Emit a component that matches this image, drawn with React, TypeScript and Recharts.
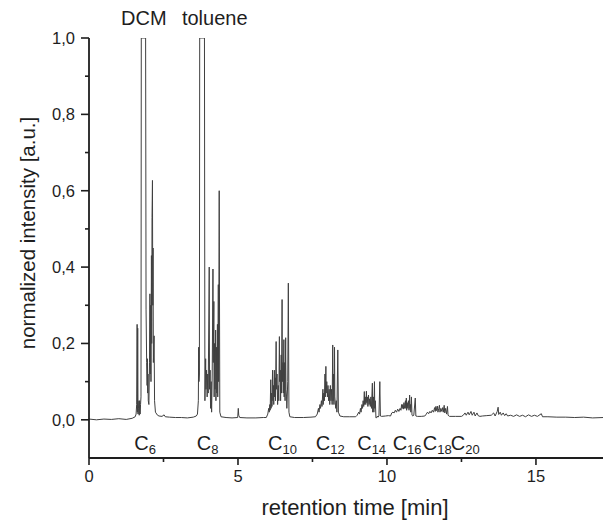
import React from 'react';
import { LineChart, Line, XAxis, YAxis, ReferenceDot } from 'recharts';

// [retention time (min), normalized intensity]
const baselineStart: [number, number][] = [
  [0, 0.002], [0.25, 0.0], [0.5, 0.002], [0.75, 0.001], [1.0, 0.003], [1.25, 0.001], [1.45, 0.004], [1.55, 0.008],
];
const regionC6: [number, number][] = [
  [1.58, 0.015], [1.6, 0.04], [1.615, 0.25], [1.625, 0.02], [1.635, 0.24], [1.645, 0.015], [1.66, 0.03], [1.675, 0.05],
  [1.685, 0.012], [1.7, 0.05], [1.715, 0.015], [1.73, 0.04], [1.745, 0.06], [1.755, 1.0], [1.9, 1.0], [1.915, 0.29],
  [1.935, 0.15], [1.95, 0.09], [1.96, 0.16], [1.97, 0.07], [1.98, 0.12], [1.99, 0.05], [2.01, 0.04], [2.03, 0.15],
  [2.045, 0.33], [2.055, 0.12], [2.07, 0.3], [2.08, 0.1], [2.095, 0.43], [2.105, 0.2], [2.115, 0.53], [2.13, 0.627],
  [2.14, 0.3], [2.15, 0.45], [2.16, 0.15], [2.185, 0.22], [2.2, 0.05], [2.23, 0.02], [2.3, 0.012],
];
const baselineB: [number, number][] = [
  [2.35, 0.01], [2.45, 0.009], [2.52, 0.013], [2.56, 0.008], [2.7, 0.007], [2.9, 0.006], [3.1, 0.006], [3.3, 0.005],
  [3.5, 0.007], [3.6, 0.01],
];
const regionC8: [number, number][] = [
  [3.64, 0.015], [3.67, 0.05], [3.68, 0.19], [3.69, 0.1], [3.705, 0.12], [3.715, 1.0], [3.875, 1.0], [3.89, 0.05],
  [3.915, 0.16], [3.925, 0.08], [3.945, 0.13], [3.965, 0.06], [3.985, 0.12], [4.0, 0.07], [4.035, 0.4], [4.045, 0.08],
  [4.065, 0.13], [4.08, 0.03], [4.1, 0.1], [4.115, 0.02], [4.135, 0.12], [4.16, 0.395], [4.17, 0.15], [4.19, 0.31],
  [4.2, 0.06], [4.215, 0.2], [4.23, 0.08], [4.25, 0.235], [4.26, 0.05], [4.28, 0.19], [4.29, 0.07], [4.31, 0.25],
  [4.32, 0.06], [4.34, 0.354], [4.35, 0.1], [4.37, 0.6], [4.39, 0.02], [4.43, 0.008],
];
const baselineC: [number, number][] = [
  [4.6, 0.006], [4.8, 0.005], [4.99, 0.006], [5.01, 0.03], [5.025, 0.012], [5.06, 0.006], [5.3, 0.005], [5.6, 0.005],
  [5.85, 0.006],
];
const regionC10: [number, number][] = [
  [5.95, 0.006], [6.0, 0.015], [6.03, 0.03], [6.05, 0.02], [6.07, 0.04], [6.08, 0.025], [6.1, 0.105], [6.11, 0.03],
  [6.13, 0.07], [6.14, 0.035], [6.16, 0.13], [6.17, 0.05], [6.19, 0.09], [6.2, 0.04], [6.22, 0.13], [6.23, 0.06],
  [6.25, 0.11], [6.26, 0.05], [6.28, 0.205], [6.29, 0.08], [6.31, 0.12], [6.33, 0.04], [6.35, 0.09], [6.37, 0.05],
  [6.39, 0.218], [6.4, 0.1], [6.42, 0.13], [6.43, 0.05], [6.45, 0.17], [6.46, 0.07], [6.48, 0.315], [6.49, 0.1],
  [6.51, 0.15], [6.52, 0.07], [6.54, 0.21], [6.55, 0.06], [6.57, 0.15], [6.58, 0.05], [6.6, 0.215], [6.61, 0.08],
  [6.63, 0.06], [6.64, 0.03], [6.67, 0.1], [6.69, 0.358], [6.71, 0.02], [6.74, 0.008],
];
const baselineD: [number, number][] = [[6.9, 0.006], [7.2, 0.006], [7.45, 0.007]];
const regionC12: [number, number][] = [
  [7.6, 0.008], [7.66, 0.015], [7.7, 0.03], [7.72, 0.02], [7.75, 0.04], [7.77, 0.03], [7.8, 0.05], [7.82, 0.035],
  [7.85, 0.08], [7.86, 0.04], [7.88, 0.07], [7.9, 0.05], [7.92, 0.12], [7.93, 0.06], [7.95, 0.14], [7.96, 0.07],
  [7.98, 0.1], [8.0, 0.06], [8.02, 0.09], [8.04, 0.05], [8.06, 0.08], [8.08, 0.04], [8.1, 0.09], [8.12, 0.05],
  [8.14, 0.08], [8.16, 0.04], [8.18, 0.196], [8.19, 0.05], [8.21, 0.12], [8.22, 0.04], [8.24, 0.19], [8.25, 0.06],
  [8.28, 0.03], [8.3, 0.05], [8.32, 0.02], [8.35, 0.183], [8.37, 0.02], [8.42, 0.01],
];
const baselineE: [number, number][] = [[8.55, 0.008], [8.75, 0.008]];
const regionC14: [number, number][] = [
  [8.95, 0.008], [9.0, 0.012], [9.05, 0.02], [9.08, 0.015], [9.11, 0.03], [9.13, 0.02], [9.16, 0.04], [9.18, 0.03],
  [9.2, 0.05], [9.22, 0.035], [9.24, 0.074], [9.25, 0.04], [9.27, 0.06], [9.29, 0.04], [9.31, 0.075], [9.32, 0.045],
  [9.34, 0.06], [9.36, 0.035], [9.38, 0.065], [9.4, 0.04], [9.42, 0.055], [9.44, 0.035], [9.46, 0.06], [9.48, 0.03],
  [9.51, 0.096], [9.52, 0.02], [9.55, 0.06], [9.56, 0.02], [9.58, 0.1], [9.59, 0.03], [9.61, 0.05], [9.63, 0.005],
  [9.66, 0.006], [9.68, 0.01], [9.7, 0.007], [9.73, 0.01], [9.76, 0.1], [9.78, 0.01], [9.82, 0.009],
];
const regionC16: [number, number][] = [
  [9.95, 0.01], [10.05, 0.011], [10.12, 0.01], [10.16, 0.018], [10.2, 0.02], [10.24, 0.018], [10.28, 0.025],
  [10.32, 0.02], [10.36, 0.028], [10.4, 0.022], [10.44, 0.03], [10.47, 0.025], [10.49, 0.04], [10.51, 0.03],
  [10.53, 0.04], [10.55, 0.028], [10.57, 0.045], [10.59, 0.03], [10.62, 0.05], [10.63, 0.03], [10.65, 0.057],
  [10.66, 0.025], [10.68, 0.045], [10.7, 0.03], [10.72, 0.05], [10.74, 0.025], [10.76, 0.065], [10.77, 0.03],
  [10.79, 0.04], [10.8, 0.02], [10.82, 0.06], [10.84, 0.012], [10.87, 0.01], [10.9, 0.012], [10.95, 0.057],
  [10.97, 0.01], [11.02, 0.009], [11.15, 0.009],
];
const regionC18: [number, number][] = [
  [11.27, 0.01], [11.32, 0.015], [11.36, 0.02], [11.4, 0.016], [11.44, 0.022], [11.48, 0.018], [11.52, 0.025],
  [11.56, 0.02], [11.6, 0.032], [11.62, 0.022], [11.64, 0.035], [11.66, 0.024], [11.69, 0.036], [11.71, 0.02],
  [11.74, 0.03], [11.76, 0.038], [11.78, 0.02], [11.81, 0.03], [11.84, 0.022], [11.87, 0.032], [11.89, 0.02],
  [11.92, 0.038], [11.94, 0.018], [11.97, 0.03], [12.0, 0.015], [12.03, 0.035], [12.05, 0.012], [12.1, 0.009],
  [12.3, 0.009],
];
const regionTail: [number, number][] = [
  [12.5, 0.009], [12.56, 0.012], [12.62, 0.018], [12.66, 0.012], [12.72, 0.02], [12.76, 0.013], [12.82, 0.022],
  [12.86, 0.012], [12.92, 0.02], [12.96, 0.01], [13.02, 0.018], [13.06, 0.011], [13.12, 0.009], [13.2, 0.01],
  [13.35, 0.011], [13.5, 0.012], [13.58, 0.018], [13.63, 0.01], [13.7, 0.022], [13.73, 0.033], [13.75, 0.014],
  [13.8, 0.02], [13.84, 0.012], [13.9, 0.018], [13.95, 0.011], [14.0, 0.016], [14.05, 0.01], [14.15, 0.012],
  [14.25, 0.009], [14.35, 0.013], [14.45, 0.009], [14.55, 0.012], [14.65, 0.008], [14.75, 0.013], [14.85, 0.009],
  [14.95, 0.012], [15.05, 0.009], [15.18, 0.016], [15.22, 0.008], [15.4, 0.008], [15.7, 0.007], [16.0, 0.007],
  [16.3, 0.006], [16.6, 0.007], [16.9, 0.005], [17.25, 0.006],
];

const xTicks = [0, 2.5, 5, 7.5, 10, 12.5, 15];
const yTicks = [0, 0.1, 0.2, 0.3, 0.4, 0.5, 0.6, 0.7, 0.8, 0.9, 1.0];

const solventLabels = [
  { t: 1.84, text: 'DCM' },
  { t: 4.22, text: 'toluene' },
];
const alkaneLabels = [
  { t: 1.52, n: '6' },
  { t: 3.62, n: '8' },
  { t: 6.01, n: '10' },
  { t: 7.61, n: '12' },
  { t: 9.0, n: '14' },
  { t: 10.19, n: '16' },
  { t: 11.2, n: '18' },
  { t: 12.14, n: '20' },
];

const data = [
  ...baselineStart, ...regionC6, ...baselineB, ...regionC8, ...baselineC, ...regionC10, ...baselineD,
  ...regionC12, ...baselineE, ...regionC14, ...regionC16, ...regionC18, ...regionTail,
].map(([t, v]) => ({ t, v }));

const FONT = '"Liberation Sans", Arial, Helvetica, sans-serif';
const INK = '#1e1e1e';

const XTick = (props: any) => {
  const { x, y, payload } = props;
  const major = payload.value % 5 === 0;
  return (
    <g>
      <line x1={x} y1={y} x2={x} y2={y + (major ? 7 : 4)} stroke={INK} strokeWidth={1.6} />
      {major && (
        <text x={x} y={y + 24} textAnchor="middle" fontSize={16.5} fontFamily={FONT} fill={INK}>
          {payload.value}
        </text>
      )}
    </g>
  );
};

const YTick = (props: any) => {
  const { x, y, payload } = props;
  const major = Math.round(payload.value * 10) % 2 === 0;
  return (
    <g>
      <line x1={x} y1={y} x2={x - (major ? 8 : 4)} y2={y} stroke={INK} strokeWidth={1.6} />
      {major && (
        <text x={x - 14} y={y + 6} textAnchor="end" fontSize={16.5} fontFamily={FONT} fill={INK}>
          {payload.value.toFixed(1).replace('.', ',')}
        </text>
      )}
    </g>
  );
};

export default function App() {
  return (
    <div style={{ position: 'absolute', left: 0, top: 0, width: 603, height: 523, background: '#fff' }}>
      <LineChart width={603} height={523} data={data} margin={{ top: 38, right: 0, bottom: 0, left: 0 }}>
        <XAxis
          type="number"
          dataKey="t"
          domain={[0, 17.25]}
          ticks={xTicks}
          interval={0}
          tickSize={0}
          tickMargin={0}
          tickLine={false}
          tick={<XTick />}
          height={65}
          axisLine={{ stroke: INK, strokeWidth: 1.8 }}
          allowDataOverflow
          label={{
            content: (p: any) => {
              const vb = p.viewBox || { x: 89, y: 458 };
              return (
                <text x={vb.x + 266} y={vb.y + 57} textAnchor="middle" fontSize={22} fontFamily={FONT} fill={INK}>
                  retention time [min]
                </text>
              );
            },
          }}
        />
        <YAxis
          type="number"
          domain={[-0.1, 1.0]}
          ticks={yTicks}
          interval={0}
          width={89}
          tickSize={0}
          tickMargin={0}
          tickLine={false}
          tick={<YTick />}
          axisLine={{ stroke: INK, strokeWidth: 1.8 }}
          allowDataOverflow
          label={{
            content: (p: any) => {
              const vb = p.viewBox || { x: 0, y: 38 };
              const cx = vb.x + 35;
              const cy = vb.y + 195;
              return (
                <text
                  x={cx}
                  y={cy}
                  transform={`rotate(-90, ${cx}, ${cy})`}
                  textAnchor="middle"
                  fontSize={20.5}
                  fontFamily={FONT}
                  fill={INK}
                >
                  normalized intensity [a.u.]
                </text>
              );
            },
          }}
        />
        <Line
          type="linear"
          dataKey="v"
          stroke="#404040"
          strokeWidth={1}
          dot={false}
          isAnimationActive={false}
        />
        {solventLabels.map((l) => (
          <ReferenceDot
            key={l.text}
            x={l.t}
            y={1.0}
            r={0}
            ifOverflow="visible"
            shape={(p: any) => (
              <text x={p.cx} y={p.cy - 13} textAnchor="middle" fontSize={20} fontFamily={FONT} fill={INK}>
                {l.text}
              </text>
            )}
          />
        ))}
        {alkaneLabels.map((l) => (
          <ReferenceDot
            key={l.n}
            x={l.t}
            y={-0.08}
            r={0}
            ifOverflow="visible"
            shape={(p: any) => (
              <text x={p.cx} y={p.cy} textAnchor="start" fontSize={20} fontFamily={FONT} fill={INK}>
                C
                <tspan fontSize={13} dy={4}>
                  {l.n}
                </tspan>
              </text>
            )}
          />
        ))}
      </LineChart>
    </div>
  );
}
